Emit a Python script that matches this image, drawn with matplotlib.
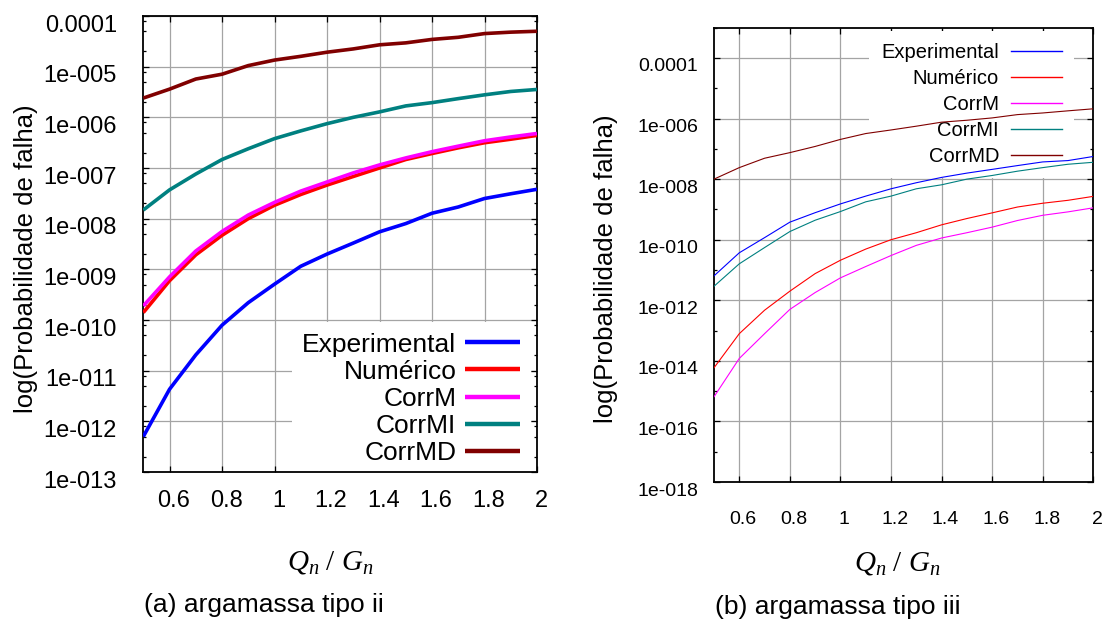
import matplotlib
matplotlib.use("Agg")
import matplotlib.pyplot as plt
import matplotlib.transforms as mtransforms
from matplotlib.ticker import FixedLocator, FixedFormatter, NullFormatter

plt.rcParams['font.family'] = ['Liberation Sans', 'DejaVu Sans']
plt.rcParams['mathtext.fontset'] = 'custom'
plt.rcParams['mathtext.rm'] = 'Liberation Serif'
plt.rcParams['mathtext.it'] = 'Liberation Serif:italic'

# Load ratio Qn/Gn
ratio = [0.5, 0.6, 0.7, 0.8, 0.9, 1.0, 1.1, 1.2, 1.3, 1.4, 1.5, 1.6, 1.7, 1.8, 1.9, 2.0]
series_names = ['Experimental', 'Numérico', 'CorrM', 'CorrMI', 'CorrMD']
series_colors = ['#0000ff', '#ff0000', '#ff00ff', '#008080', '#800000']

# (a) argamassa tipo ii - failure probabilities
exp_a = [5.0e-13, 4.3e-12, 2.05e-11, 7.9e-11, 2.2e-10, 5.1e-10, 1.15e-9, 2.0e-9,
         3.3e-9, 5.5e-9, 8.0e-9, 1.28e-8, 1.7e-8, 2.5e-8, 3.1e-8, 3.8e-8]
num_a = [1.4e-10, 5.96e-10, 1.93e-9, 4.7e-9, 1.0e-8, 1.84e-8, 3.0e-8, 4.6e-8,
         6.8e-8, 1.0e-7, 1.47e-7, 1.93e-7, 2.5e-7, 3.15e-7, 3.7e-7, 4.4e-7]
corrm_a = [1.9e-10, 7.1e-10, 2.3e-9, 5.6e-9, 1.18e-8, 2.1e-8, 3.5e-8, 5.3e-8,
           8.0e-8, 1.15e-7, 1.58e-7, 2.1e-7, 2.7e-7, 3.45e-7, 4.1e-7, 4.8e-7]
corrmi_a = [1.48e-8, 3.7e-8, 7.6e-8, 1.47e-7, 2.4e-7, 3.8e-7, 5.4e-7, 7.5e-7,
            1.0e-6, 1.28e-6, 1.68e-6, 1.95e-6, 2.34e-6, 2.78e-6, 3.24e-6, 3.55e-6]
corrmd_a = [2.4e-6, 3.6e-6, 5.7e-6, 7.1e-6, 1.05e-5, 1.35e-5, 1.6e-5, 1.93e-5,
            2.24e-5, 2.7e-5, 2.95e-5, 3.45e-5, 3.8e-5, 4.5e-5, 4.8e-5, 5.0e-5]

# (b) argamassa tipo iii - failure probabilities
exp_b = [6.4e-12, 3.7e-11, 1.17e-10, 3.8e-10, 7.8e-10, 1.52e-9, 2.75e-9, 4.8e-9,
         7.6e-9, 1.14e-8, 1.58e-8, 2.1e-8, 2.8e-8, 3.7e-8, 4.1e-8, 5.6e-8]
num_b = [5.9e-15, 7.9e-14, 4.7e-13, 2.0e-12, 7.6e-12, 2.1e-11, 4.9e-11, 1.0e-10,
         1.7e-10, 3.1e-10, 5.0e-10, 7.7e-10, 1.2e-9, 1.6e-9, 2.0e-9, 2.7e-9]
corrm_b = [6.5e-16, 1.2e-14, 7.9e-14, 5.0e-13, 1.8e-12, 5.5e-12, 1.3e-11, 3.0e-11,
           6.5e-11, 1.14e-10, 1.7e-10, 2.6e-10, 4.3e-10, 6.4e-10, 8.3e-10, 1.13e-9]
corrmi_b = [2.9e-12, 1.6e-11, 5.5e-11, 1.86e-10, 4.4e-10, 8.5e-10, 1.78e-9, 2.75e-9,
            4.8e-9, 6.5e-9, 1.0e-8, 1.32e-8, 1.83e-8, 2.4e-8, 3.1e-8, 3.6e-8]
corrmd_b = [1.0e-8, 2.4e-8, 4.9e-8, 7.5e-8, 1.2e-7, 2.05e-7, 3.2e-7, 4.2e-7,
            5.6e-7, 7.6e-7, 8.8e-7, 1.05e-6, 1.35e-6, 1.53e-6, 1.8e-6, 2.1e-6]

x_ticks = [0.6, 0.8, 1.0, 1.2, 1.4, 1.6, 1.8, 2.0]
x_ticklabels = ['0.6', '0.8', '1', '1.2', '1.4', '1.6', '1.8', '2']

y_ticks_a = [1e-4, 1e-5, 1e-6, 1e-7, 1e-8, 1e-9, 1e-10, 1e-11, 1e-12, 1e-13]
y_ticklabels_a = ['0.0001', '1e-005', '1e-006', '1e-007', '1e-008', '1e-009',
                  '1e-010', '1e-011', '1e-012', '1e-013']
y_ticks_b = [1e-4, 1e-6, 1e-8, 1e-10, 1e-12, 1e-14, 1e-16, 1e-18]
y_ticklabels_b = ['0.0001', '1e-006', '1e-008', '1e-010', '1e-012', '1e-014',
                  '1e-016', '1e-018']

ylabel_text = 'log(Probabilidade de falha)'
xlabel_text = r'$Q_n\ /\ G_n$'
caption_a = '(a) argamassa tipo ii'
caption_b = '(b) argamassa tipo iii'

W, H = 1104, 623
fig = plt.figure(figsize=(W / 100, H / 100), dpi=100)


def px_axes(l, t, r, b):
    return fig.add_axes([l / W, 1 - b / H, (r - l) / W, (b - t) / H])


def style_axes(ax, ylim, yticks, yticklabels, minor, tick_fs, ypad, xpad):
    ax.set_yscale('log')
    ax.set_xlim(0.5, 2.0)
    ax.set_ylim(*ylim)
    ax.xaxis.set_major_locator(FixedLocator(x_ticks))
    ax.xaxis.set_major_formatter(FixedFormatter(x_ticklabels))
    ax.yaxis.set_major_locator(FixedLocator(yticks))
    ax.yaxis.set_major_formatter(FixedFormatter(yticklabels))
    ax.yaxis.set_minor_locator(FixedLocator(minor))
    ax.yaxis.set_minor_formatter(NullFormatter())
    ax.xaxis.set_minor_locator(FixedLocator([]))
    ax.set_axisbelow(True)
    ax.grid(True, which='major', color='#a4a4a4', linewidth=0.9)
    ax.tick_params(which='both', direction='in', top=True, right=True,
                   color='black', width=0.9)
    ax.tick_params(which='major', length=4)
    ax.tick_params(which='minor', length=2.5)
    ax.tick_params(axis='y', which='major', labelsize=tick_fs, pad=ypad)
    ax.tick_params(axis='x', which='major', labelsize=tick_fs, pad=xpad)
    for sp in ax.spines.values():
        sp.set_linewidth(1.3)
        sp.set_color('black')


# ---------- (a) ----------
ax1 = px_axes(143.3, 16, 537, 472)
minor_a = [m * 10.0 ** e for e in range(-13, -4) for m in (2, 5, 8)]
style_axes(ax1, (1e-13, 1e-4), y_ticks_a, y_ticklabels_a, minor_a, 17, 19, 13.0)
for vals, name, col in zip([exp_a, num_a, corrm_a, corrmi_a, corrmd_a],
                           series_names, series_colors):
    ax1.plot(ratio, vals, color=col, linewidth=2.6, label=name,
             solid_capstyle='butt', zorder=3)
leg1 = ax1.legend(loc='upper right', bbox_to_anchor=(0.984, 0.329),
                  borderaxespad=0, markerfirst=False, fontsize=19,
                  handlelength=2.08, handletextpad=0.34, labelspacing=0.12,
                  borderpad=0.4, frameon=True, fancybox=False,
                  facecolor='white', edgecolor='none', framealpha=1.0)
leg1.set_zorder(1)
for ln in leg1.get_lines():
    ln.set_linewidth(3.2)

# ---------- (b) ----------
ax2 = px_axes(714, 27.7, 1093.3, 482)
minor_b = [10.0 ** e for e in range(-17, -2, 2)]
style_axes(ax2, (1e-18, 1e-3), y_ticks_b, y_ticklabels_b, minor_b, 14, 11.5, 21.0)
for vals, name, col in zip([exp_b, num_b, corrm_b, corrmi_b, corrmd_b],
                           series_names, series_colors):
    ax2.plot(ratio, vals, color=col, linewidth=0.8, label=name, zorder=3)
leg2 = ax2.legend(loc='upper right', bbox_to_anchor=(0.95, 0.993),
                  borderaxespad=0, markerfirst=False, fontsize=14.5,
                  handlelength=2.54, handletextpad=0.6, labelspacing=0.35,
                  borderpad=0.6, frameon=True, fancybox=False,
                  facecolor='white', edgecolor='none', framealpha=1.0)
leg2.set_zorder(1)
for ln in leg2.get_lines():
    ln.set_linewidth(1.0)

# Tick labels sit slightly right of / below their tick positions
for ax in (ax1, ax2):
    dx = mtransforms.ScaledTranslation(4 / 100, 0, fig.dpi_scale_trans)
    dy = mtransforms.ScaledTranslation(0, -7 / 100, fig.dpi_scale_trans)
    for lab in ax.get_xticklabels():
        lab.set_transform(lab.get_transform() + dx)
    for lab in ax.get_yticklabels():
        lab.set_transform(lab.get_transform() + dy)

# Axis titles and captions
fig.text(26 / W, 1 - 259 / H, ylabel_text, rotation=90, ha='center', va='center', fontsize=18.5)
fig.text(606 / W, 1 - 269 / H, ylabel_text, rotation=90, ha='center', va='center', fontsize=18.5)
fig.text(330 / W, 1 - 562 / H, xlabel_text, ha='center', va='center', fontsize=21)
fig.text(897 / W, 1 - 563 / H, xlabel_text, ha='center', va='center', fontsize=21)
fig.text(264 / W, 1 - 605 / H, caption_a, ha='center', va='center', fontsize=19)
fig.text(838 / W, 1 - 607 / H, caption_b, ha='center', va='center', fontsize=19)

fig.savefig('out.png', dpi=100, facecolor='white')
